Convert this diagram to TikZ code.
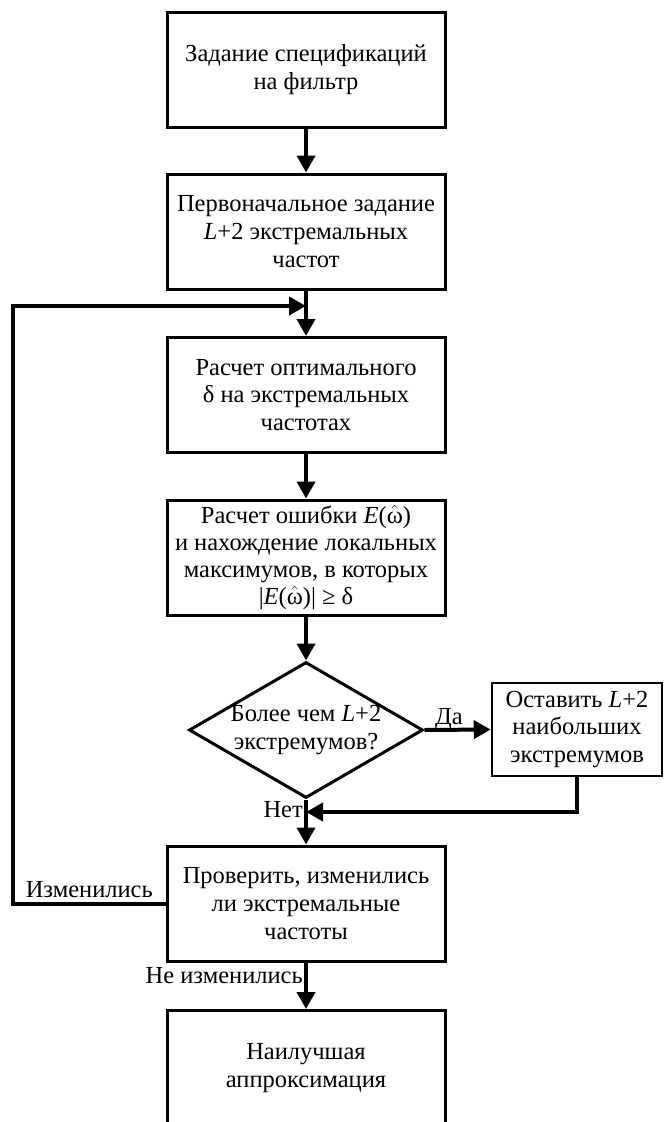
\documentclass[tikz,border=0pt]{standalone}
\usepackage{fontspec}
\setmainfont{Liberation Serif}
\usetikzlibrary{shapes.geometric,arrows.meta}

\newcommand{\omhat}{$\hat{\mbox{ω}}$}

\begin{document}
\begin{tikzpicture}[x=1pt,y=-1pt,
  box/.style={rectangle,draw,line width=3pt,minimum width=278pt,minimum height=115pt,align=center,font=\fontsize{24.5}{27.7}\selectfont},
  decision/.style={diamond,draw,line width=3pt,minimum width=234pt,minimum height=136pt,inner sep=0pt},
  smallbox/.style={rectangle,draw,line width=2.5pt,minimum width=170pt,minimum height=93pt,align=center,font=\fontsize{24.5}{27.7}\selectfont},
  link/.style={line width=4pt,-{Triangle[length=17pt,width=18pt]}},
  lbl/.style={font=\fontsize{24.5}{27.7}\selectfont,inner sep=1pt}]
  \useasboundingbox (0,0) rectangle (666,1122);
  \clip (0,0) rectangle (666,1122);
  \node[box] (spec) at (306,69.5) {Задание спецификаций\\на фильтр};
  \node[box] (init) at (306,231.5) {Первоначальное задание\\\textit{L}+2 экстремальных\\частот};
  \node[box] (delta) at (306,395) {Расчет оптимального\\δ на экстремальных\\частотах};
  \node[box,font=\fontsize{24.5}{26.8}\selectfont,inner ysep=2pt] (err) at (306,557.5) {Расчет ошибки \textit{E}(\omhat)\\и нахождение локальных\\максимумов, в которых\\|\textit{E}(\omhat)| ≥ δ};
  \node[decision,label={[align=center,font=\fontsize{24.5}{27.7}\selectfont]center:Более чем \textit{L}+2\\экстремумов?}] (dec) at (306,730) {};
  \node[smallbox] (keep) at (577,729.5) {Оставить \textit{L}+2\\наибольших\\экстремумов};
  \node[box] (check) at (306,903.5) {Проверить, изменились\\ли экстремальные\\частоты};
  \node[box] (best) at (306,1068) {Наилучшая\\аппроксимация};
  \coordinate (loop) at (306,306);
  \coordinate (merge) at (306,812);
  \coordinate (left) at (13,306);
  \foreach \from/\to in {spec/init,init/delta,delta/err,err/dec,dec/check,check/best}
    \draw[link] (\from) -- (\to);
  \draw[link] (dec.east) -- (keep.west);
  \draw[link] (keep.south) |- (merge);
  \draw[link] (check.west) -| (left) -- (loop);
  \node[lbl,anchor=base west] at (434,724) {Да};
  \node[lbl,anchor=base east] at (154,897) {Изменились};
  \node[lbl,anchor=east] at (304,810) {Нет};
  \node[lbl,anchor=east] at (304,976) {Не изменились};
\end{tikzpicture}
\end{document}
